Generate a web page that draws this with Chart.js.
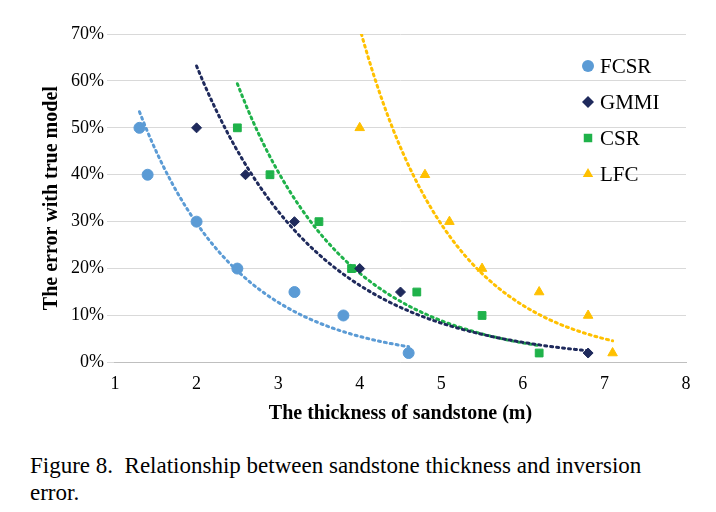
<!DOCTYPE html>
<html><head><meta charset="utf-8">
<script src="https://cdn.jsdelivr.net/npm/chart.js@4.4.0/dist/chart.umd.min.js"></script>
<style>
body{margin:0;background:#fff;width:716px;height:512px;overflow:hidden}
#wrap{position:absolute;left:0;top:0;width:716px;height:440px}
#cap{position:absolute;left:30px;top:452px;width:665px;font:23px "Liberation Serif",serif;line-height:27px;color:#000}
</style></head><body>
<div id="wrap"><canvas id="c"></canvas></div>
<div id="cap">Figure 8.&nbsp; Relationship between sandstone thickness and inversion error.</div>
<script>
const seriesNames = ["FCSR", "GMMI", "CSR", "LFC"];
const seriesColors = ["#5b9bd5", "#1f2a5c", "#1fb24a", "#ffc000"];
const seriesShapes = ["circle", "rectRot", "rect", "triangle"];
const thicknessX = [
  [1.3, 1.4, 2.0, 2.5, 3.2, 3.8, 4.6],
  [2.0, 2.6, 3.2, 4.0, 4.5, 6.8],
  [2.5, 2.9, 3.5, 3.9, 4.7, 5.5, 6.2],
  [4.0, 4.8, 5.1, 5.5, 6.2, 6.8, 7.1]
];
const errorY = [
  [50, 40, 30, 20, 15, 10, 2],
  [50, 40, 30, 20, 15, 2],
  [50, 40, 30, 20, 15, 10, 2],
  [50, 40, 30, 20, 15, 10, 2]
];

// exponential trendline (least squares on ln y), like a spreadsheet trendline
function expFit(xs, ys) {
  const n = xs.length;
  let sx = 0, sy = 0, sxx = 0, sxy = 0;
  for (let i = 0; i < n; i++) {
    const lx = xs[i], ly = Math.log(ys[i]);
    sx += lx; sy += ly; sxx += lx * lx; sxy += lx * ly;
  }
  const b = (n * sxy - sx * sy) / (n * sxx - sx * sx);
  const a = Math.exp((sy - b * sx) / n);
  const x0 = Math.min(...xs), x1 = Math.max(...xs), pts = [];
  for (let k = 0; k <= 60; k++) {
    const x = x0 + (x1 - x0) * k / 60;
    pts.push({ x: x, y: a * Math.exp(b * x) });
  }
  return pts;
}

const datasets = [];
seriesNames.forEach((name, i) => {
  datasets.push({
    label: name, type: "scatter",
    data: thicknessX[i].map((x, j) => ({ x: x, y: errorY[i][j] })),
    pointStyle: seriesShapes[i], pointRadius: i == 1 ? 5 : 5.5,
    backgroundColor: seriesColors[i], borderColor: seriesColors[i], order: 1
  });
  datasets.push({
    label: name + " trend", type: "line", data: expFit(thicknessX[i], errorY[i]),
    borderColor: seriesColors[i], borderWidth: 3, borderDash: [2, 4], borderCapStyle: "round",
    pointRadius: 0, fill: false, order: 2, clip: true
  });
});

const legendPlugin = {
  id: "insideLegend",
  afterDraw(chart) {
    const ctx = chart.ctx;
    seriesNames.forEach((name, i) => {
      const y = 66 + i * 36, x = 588;
      ctx.save();
      ctx.fillStyle = seriesColors[i];
      Chart.helpers.drawPoint(ctx, { pointStyle: seriesShapes[i], radius: 6, rotation: 0 }, x, y);
      ctx.fillStyle = "#000";
      ctx.font = "21px 'Liberation Serif', serif";
      ctx.textBaseline = "middle";
      ctx.fillText(name, x + 12, y + 1);
      ctx.restore();
    });
  }
};

new Chart(document.getElementById("c"), {
  type: "scatter",
  data: { datasets: datasets },
  plugins: [legendPlugin],
  options: {
    responsive: true, maintainAspectRatio: false, animation: false,
    layout: { padding: { left: 36, right: 30, top: 34, bottom: 10 } },
    plugins: { legend: { display: false }, tooltip: { enabled: false } },
    scales: {
      x: {
        type: "linear", min: 1, max: 8,
        ticks: { stepSize: 1, color: "#000", font: { family: "Liberation Serif", size: 18 } },
        grid: { display: false }, border: { color: "#bfbfbf" },
        title: { display: true, text: "The thickness of sandstone (m)", color: "#000",
          font: { family: "Liberation Serif", size: 20, weight: "bold" } }
      },
      y: {
        min: 0, max: 70,
        ticks: { stepSize: 10, color: "#000", callback: v => v + "%",
          font: { family: "Liberation Serif", size: 18 } },
        grid: { color: "#d9d9d9" }, border: { display: false },
        title: { display: true, text: "The error with true model", color: "#000",
          font: { family: "Liberation Serif", size: 20, weight: "bold" } }
      }
    }
  }
});
</script>
</body></html>
